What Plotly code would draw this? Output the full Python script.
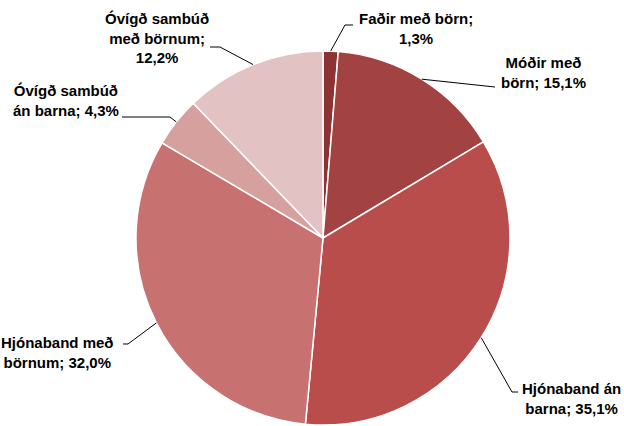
import math
import plotly.graph_objects as go

# ---- data ----
labels = ["Faðir með börn", "Móðir með börn", "Hjónaband án barna",
          "Hjónaband með börnum", "Óvígð sambúð án barna", "Óvígð sambúð með börnum"]
values = [1.3, 15.1, 35.1, 32.0, 4.3, 12.2]
label_texts = ["Faðir með börn;<br>1,3%", "Móðir með<br>börn; 15,1%", "Hjónaband án<br>barna; 35,1%",
               "Hjónaband með<br>börnum; 32,0%", "Óvígð sambúð<br>án barna; 4,3%",
               "Óvígð sambúð<br>með börnum;<br>12,2%"]
colors = ["#8C3434", "#A34242", "#B84D4B", "#C77271", "#D6A09F", "#E3C2C3"]

# ---- layout geometry (pixels) ----
W, H = 624, 426
cx, cy, R = 323, 238, 187
elbows = [[(345, 25), (353, 25)],
          [(495, 87)],
          [(512, 392), (518, 392)],
          [(128, 344), (123, 344)],
          [(170, 117), (122, 117)],
          [(220, 47), (210, 47)]]
text_pos = [(416, 28, "center"), (543, 72, "center"), (571, 398, "center"),
            (57, 352, "center"), (66, 101, "center"), (157, 38, "center")]

def px(x):
    return x / W

def py(y):
    return 1 - y / H

fig = go.Figure(go.Pie(
    labels=labels, values=values, sort=False, direction="clockwise", rotation=0,
    marker=dict(colors=colors, line=dict(color="white", width=1.5)),
    textinfo="none", hoverinfo="label+percent", showlegend=False,
    domain=dict(x=[px(cx - R), px(cx + R)], y=[py(cy + R), py(cy - R)]),
))

total = sum(values)
cum = 0
shapes = []
annotations = []
for i, v in enumerate(values):
    mid = (cum + v / 2) / total * 2 * math.pi
    cum += v
    ex = cx + R * math.sin(mid)
    ey = cy - R * math.cos(mid)
    pts = [(ex, ey)] + elbows[i]
    path = "M " + " L ".join(f"{px(a):.5f},{py(b):.5f}" for a, b in pts)
    shapes.append(dict(type="path", path=path, xref="paper", yref="paper",
                       line=dict(color="black", width=1)))
    tx, ty, al = text_pos[i]
    annotations.append(dict(text=label_texts[i], x=px(tx), y=py(ty), xref="paper", yref="paper",
                            xanchor="center", yanchor="middle", align=al, showarrow=False,
                            font=dict(family="Liberation Sans", size=15, color="black", weight="bold")))

fig.update_layout(width=W, height=H, margin=dict(l=0, r=0, t=0, b=0),
                  paper_bgcolor="white", plot_bgcolor="white",
                  shapes=shapes, annotations=annotations)
fig.write_html("out.html", config={"displayModeBar": False},
               post_script="document.body.style.margin='0';")
